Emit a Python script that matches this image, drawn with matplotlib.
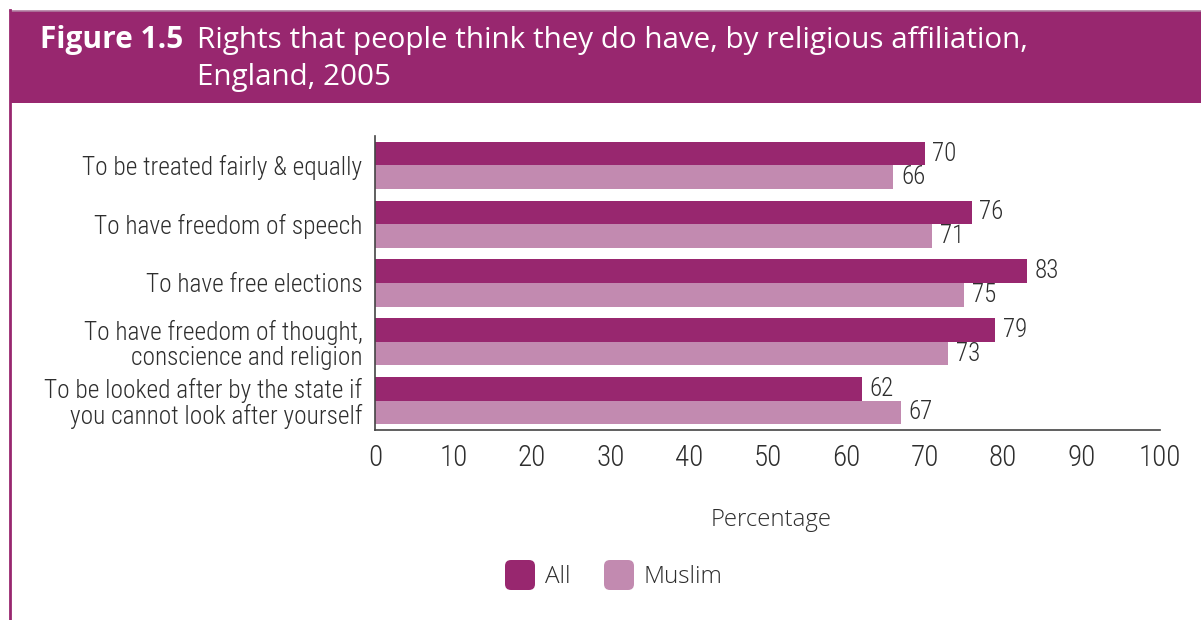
import matplotlib
matplotlib.use("Agg")
import matplotlib.pyplot as plt
from matplotlib.patches import Rectangle, FancyBboxPatch
from matplotlib.lines import Line2D
import numpy as np

categories = [
    "To be treated fairly & equally",
    "To have freedom of speech",
    "To have free elections",
    "To have freedom of thought,\nconscience and religion",
    "To be looked after by the state if\nyou cannot look after yourself",
]
all_values = [70, 76, 83, 79, 62]
muslim_values = [66, 71, 75, 73, 67]
series_names = ["All", "Muslim"]
x_ticks = [0, 10, 20, 30, 40, 50, 60, 70, 80, 90, 100]

c_all = "#98276F"
c_mus = "#C28AB0"
c_text = "#2e2e2e"
narrow = ["Roboto Condensed", "DejaVu Sans"]
wide = ["Open Sans", "DejaVu Sans"]

W, H = 1201, 620
fig = plt.figure(figsize=(W / 100, H / 100), dpi=100)

def fx(px):
    return px / W

def fy(py):
    return 1 - py / H

# banner
fig.patches.append(Rectangle((fx(10), fy(103)), fx(1191), (103 - 11) / H,
                             transform=fig.transFigure, facecolor=c_all,
                             edgecolor="none", zorder=0))
fig.lines.append(Line2D([fx(10), 1], [fy(10.5), fy(10.5)], transform=fig.transFigure,
                        color="#b07aa0", lw=1.2))
fig.lines.append(Line2D([fx(10), fx(10)], [0, fy(10)], transform=fig.transFigure,
                        color=c_all, lw=2))

# title
fig.text(fx(40), fy(48), "Figure 1.5", color="white", fontsize=21.5,
         fontweight="bold", family=wide, va="baseline", ha="left")
fig.text(fx(197), fy(48), "Rights that people think they do have, by religious affiliation,",
         color="white", fontsize=21.3, family=wide, va="baseline", ha="left")
fig.text(fx(197), fy(85), "England, 2005", color="white", fontsize=21.3,
         family=wide, va="baseline", ha="left")

# axes
ax = fig.add_axes([fx(375), fy(430), (1160 - 375) / W, (430 - 136) / H])
n = len(categories)
pos = np.arange(n)
h = 0.4
ax.barh(pos - h / 2, all_values, height=h, color=c_all, label=series_names[0])
ax.barh(pos + h / 2, muslim_values, height=h, color=c_mus, label=series_names[1])
ax.set_ylim(n - 0.5, -0.5)
ax.set_xlim(0, 100)
ax.set_xticks(x_ticks)
ax.set_xticklabels([str(t) for t in x_ticks], family=narrow, fontsize=21,
                   color=c_text, fontweight=300)
ax.set_yticks(pos)
ax.set_yticklabels(categories, family=narrow, fontsize=18.3, color=c_text,
                   linespacing=1.05, fontweight=300)
ax.tick_params(axis="both", length=0)
ax.tick_params(axis="x", pad=10)
ax.tick_params(axis="y", pad=9)
for s in ["top", "right"]:
    ax.spines[s].set_visible(False)
for s in ["left", "bottom"]:
    ax.spines[s].set_color("#444444")
    ax.spines[s].set_linewidth(1.2)

for i, v in enumerate(all_values):
    ax.text(v + 1.0, i - h / 2, str(v), va="center", ha="left", family=narrow,
            fontsize=18, color=c_text, fontweight=300)
for i, v in enumerate(muslim_values):
    ax.text(v + 1.0, i + h / 2, str(v), va="center", ha="left", family=narrow,
            fontsize=18, color=c_text, fontweight=300)

fig.text(fx(771), fy(520), "Percentage", ha="center", va="center", family=wide,
         fontsize=17.3, color=c_text, fontweight=300)

# legend (pixel-based squares with rounded corners)
for x0, col, name in [(505, c_all, series_names[0]), (604, c_mus, series_names[1])]:
    fig.patches.append(FancyBboxPatch((x0 / 100 + 0.03, (H - 590) / 100 + 0.03), 0.24, 0.24,
                                      boxstyle="round,pad=0.03,rounding_size=0.06",
                                      transform=fig.dpi_scale_trans, facecolor=col,
                                      edgecolor="none"))
    fig.text(fx(x0 + 40), fy(577), name, ha="left", va="center", family=wide,
             fontsize=17.5, color=c_text, fontweight=300)

fig.savefig("out.png", dpi=100)
